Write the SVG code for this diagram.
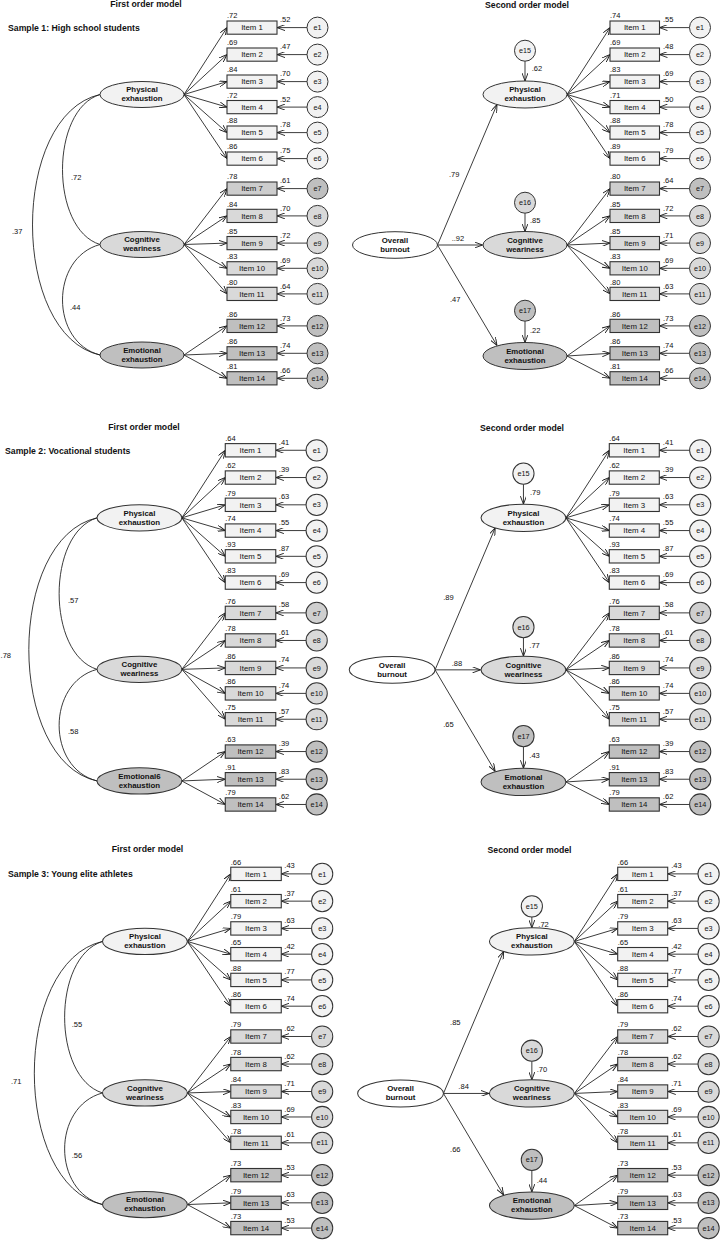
<svg xmlns="http://www.w3.org/2000/svg" width="720" height="1241" viewBox="0 0 720 1241">
<style>
.bx1{fill:#f2f2f2}.bx2{fill:#d9d9d9}.bx3{fill:#bfbfbf}.bxw{fill:#ffffff}
rect{stroke:#333;stroke-width:1.1}
ellipse,circle{stroke:#333;stroke-width:1}
.ln{fill:none;stroke:#1a1a1a;stroke-width:0.85;marker-end:url(#ah)}
.cv{fill:none;stroke:#1a1a1a;stroke-width:0.85}
text{font-family:"Liberation Sans",Arial,sans-serif;fill:#111}
.ti{font-size:8.7px;font-weight:bold}
.tc{font-size:8.7px;font-weight:bold;text-anchor:middle}
.lt{font-size:7.8px;font-weight:bold;text-anchor:middle}
.it{font-size:7.8px;text-anchor:middle}
.n{font-size:7.5px}
.e{font-size:7.2px;text-anchor:middle}
</style>
<defs>
<marker id="ah" viewBox="0 0 8 6" refX="8" refY="3" markerWidth="8" markerHeight="6" markerUnits="userSpaceOnUse" orient="auto"><path d="M0,0L8,3L0,6" fill="none" stroke="#1a1a1a" stroke-width="0.9"/></marker>
</defs>
<rect width="720" height="1241" style="fill:#ffffff;stroke:none"/>

<g id="titles">
<text class="tc" x="146" y="7">First order model</text>
<text class="tc" x="527" y="7.5">Second order model</text>
<text class="ti" x="8" y="31">Sample 1: High school students</text>
<text class="tc" x="144" y="429.7">First order model</text>
<text class="tc" x="522" y="431">Second order model</text>
<text class="ti" x="5" y="454">Sample 2: Vocational students</text>
<text class="tc" x="147.5" y="852.3">First order model</text>
<text class="tc" x="529.5" y="853.3">Second order model</text>
<text class="ti" x="8" y="877.3">Sample 3: Young elite athletes</text>
</g>

<!-- ================= SAMPLE 1 FIRST ORDER ================= -->
<g id="s1f">
<g id="s1f-connectors">
<path class="ln" d="M184,94.5L227,27.6"/><path class="ln" d="M184,94.5L227,54.6"/><path class="ln" d="M184,94.5L227,81.6"/><path class="ln" d="M184,94.5L227,107.1"/><path class="ln" d="M184,94.5L227,132.6"/><path class="ln" d="M184,94.5L227,158.6"/>
<path class="ln" d="M184,244.5L227,188.6"/><path class="ln" d="M184,244.5L227,215.9"/><path class="ln" d="M184,244.5L227,243.1"/><path class="ln" d="M184,244.5L227,268.3"/><path class="ln" d="M184,244.5L227,293.9"/>
<path class="ln" d="M184,355L227,325.9"/><path class="ln" d="M184,355L227,353.3"/><path class="ln" d="M184,355L227,378.3"/>
<path class="ln" d="M307,27.6L277,27.6"/><path class="ln" d="M307,54.6L277,54.6"/><path class="ln" d="M307,81.6L277,81.6"/><path class="ln" d="M307,107.1L277,107.1"/><path class="ln" d="M307,132.6L277,132.6"/><path class="ln" d="M307,158.6L277,158.6"/><path class="ln" d="M307,188.6L277,188.6"/><path class="ln" d="M307,215.9L277,215.9"/><path class="ln" d="M307,243.1L277,243.1"/><path class="ln" d="M307,268.3L277,268.3"/><path class="ln" d="M307,293.9L277,293.9"/><path class="ln" d="M307,325.9L277,325.9"/><path class="ln" d="M307,353.3L277,353.3"/><path class="ln" d="M307,378.3L277,378.3"/>
<path class="cv" d="M100,94.5C50,110 50,229 100,244.5"/>
<path class="cv" d="M100,94.5C10,115 10,335 100,355"/>
<path class="cv" d="M100,244.5C50,258 50,342 100,355"/>
<text class="n" x="71" y="179.5">.72</text><text class="n" x="12" y="233.5">.37</text><text class="n" x="70" y="309.5">.44</text>
<text class="n" x="227" y="18.4">.72</text><text class="n" x="227" y="45.4">.69</text><text class="n" x="227" y="72.4">.84</text><text class="n" x="227" y="97.9">.72</text><text class="n" x="227" y="123.4">.88</text><text class="n" x="227" y="149.4">.86</text><text class="n" x="227" y="179.4">.78</text><text class="n" x="227" y="206.7">.84</text><text class="n" x="227" y="233.9">.85</text><text class="n" x="227" y="259.1">.83</text><text class="n" x="227" y="284.7">.80</text><text class="n" x="227" y="316.7">.86</text><text class="n" x="227" y="344.1">.86</text><text class="n" x="227" y="369.1">.81</text>
<text class="n" x="280" y="22.2">.52</text><text class="n" x="280" y="49.2">.47</text><text class="n" x="280" y="76.2">.70</text><text class="n" x="280" y="101.7">.52</text><text class="n" x="280" y="127.2">.78</text><text class="n" x="280" y="153.2">.75</text><text class="n" x="280" y="183.2">.61</text><text class="n" x="280" y="210.5">.70</text><text class="n" x="280" y="237.7">.72</text><text class="n" x="280" y="262.9">.69</text><text class="n" x="280" y="288.5">.64</text><text class="n" x="280" y="320.5">.73</text><text class="n" x="280" y="347.9">.74</text><text class="n" x="280" y="372.9">.66</text>
</g>
<g id="s1f-PE"><ellipse class="bx1" cx="142" cy="94.5" rx="42" ry="13"/><text class="lt" x="142" y="92.3">Physical</text><text class="lt" x="142" y="101.3">exhaustion</text></g>
<g id="s1f-CW"><ellipse class="bx2" cx="142" cy="244.5" rx="42" ry="13"/><text class="lt" x="142" y="242.3">Cognitive</text><text class="lt" x="142" y="251.3">weariness</text></g>
<g id="s1f-EE"><ellipse class="bx3" cx="142" cy="355" rx="42" ry="13"/><text class="lt" x="142" y="352.8">Emotional</text><text class="lt" x="142" y="361.8">exhaustion</text></g>
<g id="s1f-i1" transform="translate(227,21)"><rect class="bx1" width="50" height="13.2"/><text class="it" x="25" y="9.4">Item 1</text></g>
<g id="s1f-i2" transform="translate(227,48)"><rect class="bx1" width="50" height="13.2"/><text class="it" x="25" y="9.4">Item 2</text></g>
<g id="s1f-i3" transform="translate(227,75)"><rect class="bx1" width="50" height="13.2"/><text class="it" x="25" y="9.4">Item 3</text></g>
<g id="s1f-i4" transform="translate(227,100.5)"><rect class="bx1" width="50" height="13.2"/><text class="it" x="25" y="9.4">Item 4</text></g>
<g id="s1f-i5" transform="translate(227,126)"><rect class="bx1" width="50" height="13.2"/><text class="it" x="25" y="9.4">Item 5</text></g>
<g id="s1f-i6" transform="translate(227,152)"><rect class="bx1" width="50" height="13.2"/><text class="it" x="25" y="9.4">Item 6</text></g>
<g id="s1f-i7" transform="translate(227,182)"><rect class="bx2" style="fill:#cdcdcd" width="50" height="13.2"/><text class="it" x="25" y="9.4">Item 7</text></g>
<g id="s1f-i8" transform="translate(227,209.3)"><rect class="bx2" width="50" height="13.2"/><text class="it" x="25" y="9.4">Item 8</text></g>
<g id="s1f-i9" transform="translate(227,236.5)"><rect class="bx2" width="50" height="13.2"/><text class="it" x="25" y="9.4">Item 9</text></g>
<g id="s1f-i10" transform="translate(227,261.7)"><rect class="bx2" width="50" height="13.2"/><text class="it" x="25" y="9.4">Item 10</text></g>
<g id="s1f-i11" transform="translate(227,287.3)"><rect class="bx2" width="50" height="13.2"/><text class="it" x="25" y="9.4">Item 11</text></g>
<g id="s1f-i12" transform="translate(227,319.3)"><rect class="bx3" width="50" height="13.2"/><text class="it" x="25" y="9.4">Item 12</text></g>
<g id="s1f-i13" transform="translate(227,346.7)"><rect class="bx3" width="50" height="13.2"/><text class="it" x="25" y="9.4">Item 13</text></g>
<g id="s1f-i14" transform="translate(227,371.7)"><rect class="bx3" width="50" height="13.2"/><text class="it" x="25" y="9.4">Item 14</text></g>
<g id="s1f-e1" transform="translate(317.5,27.6)"><circle class="bx1" r="10.5"/><text class="e" y="2.6">e1</text></g>
<g id="s1f-e2" transform="translate(317.5,54.6)"><circle class="bx1" r="10.5"/><text class="e" y="2.6">e2</text></g>
<g id="s1f-e3" transform="translate(317.5,81.6)"><circle class="bx1" r="10.5"/><text class="e" y="2.6">e3</text></g>
<g id="s1f-e4" transform="translate(317.5,107.1)"><circle class="bx1" r="10.5"/><text class="e" y="2.6">e4</text></g>
<g id="s1f-e5" transform="translate(317.5,132.6)"><circle class="bx1" r="10.5"/><text class="e" y="2.6">e5</text></g>
<g id="s1f-e6" transform="translate(317.5,158.6)"><circle class="bx1" r="10.5"/><text class="e" y="2.6">e6</text></g>
<g id="s1f-e7" transform="translate(317.5,188.6)"><circle class="bx3" r="10.5"/><text class="e" y="2.6">e7</text></g>
<g id="s1f-e8" transform="translate(317.5,215.9)"><circle class="bx2" r="10.5"/><text class="e" y="2.6">e8</text></g>
<g id="s1f-e9" transform="translate(317.5,243.1)"><circle class="bx2" r="10.5"/><text class="e" y="2.6">e9</text></g>
<g id="s1f-e10" transform="translate(317.5,268.3)"><circle class="bx2" r="10.5"/><text class="e" y="2.6">e10</text></g>
<g id="s1f-e11" transform="translate(317.5,293.9)"><circle class="bx2" r="10.5"/><text class="e" y="2.6">e11</text></g>
<g id="s1f-e12" transform="translate(317.5,325.9)"><circle class="bx3" r="10.5"/><text class="e" y="2.6">e12</text></g>
<g id="s1f-e13" transform="translate(317.5,353.3)"><circle class="bx3" r="10.5"/><text class="e" y="2.6">e13</text></g>
<g id="s1f-e14" transform="translate(317.5,378.3)"><circle class="bx3" r="10.5"/><text class="e" y="2.6">e14</text></g>
</g>

<!-- ================= SAMPLE 1 SECOND ORDER ================= -->
<g id="s1s">
<g id="s1s-connectors">
<path class="ln" d="M567,94.5L610,27.6"/><path class="ln" d="M567,94.5L610,54.6"/><path class="ln" d="M567,94.5L610,81.6"/><path class="ln" d="M567,94.5L610,107.1"/><path class="ln" d="M567,94.5L610,132.6"/><path class="ln" d="M567,94.5L610,158.6"/>
<path class="ln" d="M567,245L610,188.6"/><path class="ln" d="M567,245L610,215.9"/><path class="ln" d="M567,245L610,243.1"/><path class="ln" d="M567,245L610,268.3"/><path class="ln" d="M567,245L610,293.9"/>
<path class="ln" d="M567,356L610,325.9"/><path class="ln" d="M567,356L610,353.3"/><path class="ln" d="M567,356L610,378.3"/>
<path class="ln" d="M689.5,27.6L659.5,27.6"/><path class="ln" d="M689.5,54.6L659.5,54.6"/><path class="ln" d="M689.5,81.6L659.5,81.6"/><path class="ln" d="M689.5,107.1L659.5,107.1"/><path class="ln" d="M689.5,132.6L659.5,132.6"/><path class="ln" d="M689.5,158.6L659.5,158.6"/><path class="ln" d="M689.5,188.6L659.5,188.6"/><path class="ln" d="M689.5,215.9L659.5,215.9"/><path class="ln" d="M689.5,243.1L659.5,243.1"/><path class="ln" d="M689.5,268.3L659.5,268.3"/><path class="ln" d="M689.5,293.9L659.5,293.9"/><path class="ln" d="M689.5,325.9L659.5,325.9"/><path class="ln" d="M689.5,353.3L659.5,353.3"/><path class="ln" d="M689.5,378.3L659.5,378.3"/>
<path class="ln" d="M437.5,245L497,104.5"/><path class="ln" d="M437.5,245L482.5,245"/><path class="ln" d="M437.5,245L497,345.5"/>
<path class="ln" d="M525,61.2L525,81"/><path class="ln" d="M525,213.2L525,231.5"/><path class="ln" d="M525,321.2L525,342.5"/>
<text class="n" x="449" y="176.5">.79</text><text class="n" x="451.7" y="240.5">..92</text><text class="n" x="450" y="301.5">.47</text>
<text class="n" x="531.7" y="70.5">.62</text><text class="n" x="530" y="222.5">.85</text><text class="n" x="530" y="332.5">.22</text>
<text class="n" x="610" y="18.4">.74</text><text class="n" x="610" y="45.4">.69</text><text class="n" x="610" y="72.4">.83</text><text class="n" x="610" y="97.9">.71</text><text class="n" x="610" y="123.4">.88</text><text class="n" x="610" y="149.4">.89</text><text class="n" x="610" y="179.4">.80</text><text class="n" x="610" y="206.7">.85</text><text class="n" x="610" y="233.9">.85</text><text class="n" x="610" y="259.1">.83</text><text class="n" x="610" y="284.7">.80</text><text class="n" x="610" y="316.7">.86</text><text class="n" x="610" y="344.1">.86</text><text class="n" x="610" y="369.1">.81</text>
<text class="n" x="663" y="22.2">.55</text><text class="n" x="663" y="49.2">.48</text><text class="n" x="663" y="76.2">.69</text><text class="n" x="663" y="101.7">.50</text><text class="n" x="663" y="127.2">.78</text><text class="n" x="663" y="153.2">.79</text><text class="n" x="663" y="183.2">.64</text><text class="n" x="663" y="210.5">.72</text><text class="n" x="663" y="237.7">.71</text><text class="n" x="663" y="262.9">.69</text><text class="n" x="663" y="288.5">.63</text><text class="n" x="663" y="320.5">.73</text><text class="n" x="663" y="347.9">.74</text><text class="n" x="663" y="372.9">.66</text>
</g>
<g id="s1s-OB"><ellipse class="bxw" cx="395" cy="245" rx="42.5" ry="13.3"/><text class="lt" x="395" y="242.8">Overall</text><text class="lt" x="395" y="251.8">burnout</text></g>
<g id="s1s-PE"><ellipse class="bx1" cx="525" cy="94.5" rx="42" ry="13.5"/><text class="lt" x="525" y="92.3">Physical</text><text class="lt" x="525" y="101.3">exhaustion</text></g>
<g id="s1s-CW"><ellipse class="bx2" cx="525" cy="245" rx="42" ry="13.5"/><text class="lt" x="525" y="242.8">Cognitive</text><text class="lt" x="525" y="251.8">weariness</text></g>
<g id="s1s-EE"><ellipse class="bx3" cx="525" cy="356" rx="42" ry="13.5"/><text class="lt" x="525" y="353.8">Emotional</text><text class="lt" x="525" y="362.8">exhaustion</text></g>
<g id="s1s-e15" transform="translate(525,50.7)"><circle class="bx1" r="10.5"/><text class="e" y="2.6">e15</text></g>
<g id="s1s-e16" transform="translate(525,202.7)"><circle class="bx2" r="10.5"/><text class="e" y="2.6">e16</text></g>
<g id="s1s-e17" transform="translate(525,310.7)"><circle class="bx3" r="10.5"/><text class="e" y="2.6">e17</text></g>
<g id="s1s-i1" transform="translate(610,21)"><rect class="bx1" width="49.5" height="13.2"/><text class="it" x="24.75" y="9.4">Item 1</text></g>
<g id="s1s-i2" transform="translate(610,48)"><rect class="bx1" width="49.5" height="13.2"/><text class="it" x="24.75" y="9.4">Item 2</text></g>
<g id="s1s-i3" transform="translate(610,75)"><rect class="bx1" width="49.5" height="13.2"/><text class="it" x="24.75" y="9.4">Item 3</text></g>
<g id="s1s-i4" transform="translate(610,100.5)"><rect class="bx1" width="49.5" height="13.2"/><text class="it" x="24.75" y="9.4">Item 4</text></g>
<g id="s1s-i5" transform="translate(610,126)"><rect class="bx1" width="49.5" height="13.2"/><text class="it" x="24.75" y="9.4">Item 5</text></g>
<g id="s1s-i6" transform="translate(610,152)"><rect class="bx1" width="49.5" height="13.2"/><text class="it" x="24.75" y="9.4">Item 6</text></g>
<g id="s1s-i7" transform="translate(610,182)"><rect class="bx2" style="fill:#cdcdcd" width="49.5" height="13.2"/><text class="it" x="24.75" y="9.4">Item 7</text></g>
<g id="s1s-i8" transform="translate(610,209.3)"><rect class="bx2" width="49.5" height="13.2"/><text class="it" x="24.75" y="9.4">Item 8</text></g>
<g id="s1s-i9" transform="translate(610,236.5)"><rect class="bx2" width="49.5" height="13.2"/><text class="it" x="24.75" y="9.4">Item 9</text></g>
<g id="s1s-i10" transform="translate(610,261.7)"><rect class="bx2" width="49.5" height="13.2"/><text class="it" x="24.75" y="9.4">Item 10</text></g>
<g id="s1s-i11" transform="translate(610,287.3)"><rect class="bx2" width="49.5" height="13.2"/><text class="it" x="24.75" y="9.4">Item 11</text></g>
<g id="s1s-i12" transform="translate(610,319.3)"><rect class="bx3" width="49.5" height="13.2"/><text class="it" x="24.75" y="9.4">Item 12</text></g>
<g id="s1s-i13" transform="translate(610,346.7)"><rect class="bx3" width="49.5" height="13.2"/><text class="it" x="24.75" y="9.4">Item 13</text></g>
<g id="s1s-i14" transform="translate(610,371.7)"><rect class="bx3" width="49.5" height="13.2"/><text class="it" x="24.75" y="9.4">Item 14</text></g>
<g id="s1s-e1" transform="translate(700,27.6)"><circle class="bx1" r="10.5"/><text class="e" y="2.6">e1</text></g>
<g id="s1s-e2" transform="translate(700,54.6)"><circle class="bx1" r="10.5"/><text class="e" y="2.6">e2</text></g>
<g id="s1s-e3" transform="translate(700,81.6)"><circle class="bx1" r="10.5"/><text class="e" y="2.6">e3</text></g>
<g id="s1s-e4" transform="translate(700,107.1)"><circle class="bx1" r="10.5"/><text class="e" y="2.6">e4</text></g>
<g id="s1s-e5" transform="translate(700,132.6)"><circle class="bx1" r="10.5"/><text class="e" y="2.6">e5</text></g>
<g id="s1s-e6" transform="translate(700,158.6)"><circle class="bx1" r="10.5"/><text class="e" y="2.6">e6</text></g>
<g id="s1s-e7" transform="translate(700,188.6)"><circle class="bx3" r="10.5"/><text class="e" y="2.6">e7</text></g>
<g id="s1s-e8" transform="translate(700,215.9)"><circle class="bx2" r="10.5"/><text class="e" y="2.6">e8</text></g>
<g id="s1s-e9" transform="translate(700,243.1)"><circle class="bx2" r="10.5"/><text class="e" y="2.6">e9</text></g>
<g id="s1s-e10" transform="translate(700,268.3)"><circle class="bx2" r="10.5"/><text class="e" y="2.6">e10</text></g>
<g id="s1s-e11" transform="translate(700,293.9)"><circle class="bx2" r="10.5"/><text class="e" y="2.6">e11</text></g>
<g id="s1s-e12" transform="translate(700,325.9)"><circle class="bx3" r="10.5"/><text class="e" y="2.6">e12</text></g>
<g id="s1s-e13" transform="translate(700,353.3)"><circle class="bx3" r="10.5"/><text class="e" y="2.6">e13</text></g>
<g id="s1s-e14" transform="translate(700,378.3)"><circle class="bx3" r="10.5"/><text class="e" y="2.6">e14</text></g>
</g>

<!-- ================= SAMPLE 2 FIRST ORDER ================= -->
<g id="s2f" transform="translate(-4,422.4) scale(1.01)">
<g id="s2f-connectors">
<path class="ln" d="M184,94.5L227,27.6"/><path class="ln" d="M184,94.5L227,54.6"/><path class="ln" d="M184,94.5L227,81.6"/><path class="ln" d="M184,94.5L227,107.1"/><path class="ln" d="M184,94.5L227,132.6"/><path class="ln" d="M184,94.5L227,158.6"/>
<path class="ln" d="M184,244.5L227,188.6"/><path class="ln" d="M184,244.5L227,215.9"/><path class="ln" d="M184,244.5L227,243.1"/><path class="ln" d="M184,244.5L227,268.3"/><path class="ln" d="M184,244.5L227,293.9"/>
<path class="ln" d="M184,355L227,325.9"/><path class="ln" d="M184,355L227,353.3"/><path class="ln" d="M184,355L227,378.3"/>
<path class="ln" d="M307,27.6L277,27.6"/><path class="ln" d="M307,54.6L277,54.6"/><path class="ln" d="M307,81.6L277,81.6"/><path class="ln" d="M307,107.1L277,107.1"/><path class="ln" d="M307,132.6L277,132.6"/><path class="ln" d="M307,158.6L277,158.6"/><path class="ln" d="M307,188.6L277,188.6"/><path class="ln" d="M307,215.9L277,215.9"/><path class="ln" d="M307,243.1L277,243.1"/><path class="ln" d="M307,268.3L277,268.3"/><path class="ln" d="M307,293.9L277,293.9"/><path class="ln" d="M307,325.9L277,325.9"/><path class="ln" d="M307,353.3L277,353.3"/><path class="ln" d="M307,378.3L277,378.3"/>
<path class="cv" d="M100,94.5C50,110 50,229 100,244.5"/>
<path class="cv" d="M100,94.5C10,115 10,335 100,355"/>
<path class="cv" d="M100,244.5C50,258 50,342 100,355"/>
<text class="n" x="71.3" y="179.3">.57</text><text class="n" x="4.5" y="233.5">.78</text><text class="n" x="71.3" y="308.7">.58</text>
<text class="n" x="227" y="18.4">.64</text><text class="n" x="227" y="45.4">.62</text><text class="n" x="227" y="72.4">.79</text><text class="n" x="227" y="97.9">.74</text><text class="n" x="227" y="123.4">.93</text><text class="n" x="227" y="149.4">.83</text><text class="n" x="227" y="179.4">.76</text><text class="n" x="227" y="206.7">.78</text><text class="n" x="227" y="233.9">.86</text><text class="n" x="227" y="259.1">.86</text><text class="n" x="227" y="284.7">.75</text><text class="n" x="227" y="316.7">.63</text><text class="n" x="227" y="344.1">.91</text><text class="n" x="227" y="369.1">.79</text>
<text class="n" x="280" y="22.2">.41</text><text class="n" x="280" y="49.2">.39</text><text class="n" x="280" y="76.2">.63</text><text class="n" x="280" y="101.7">.55</text><text class="n" x="280" y="127.2">.87</text><text class="n" x="280" y="153.2">.69</text><text class="n" x="280" y="183.2">.58</text><text class="n" x="280" y="210.5">.61</text><text class="n" x="280" y="237.7">.74</text><text class="n" x="280" y="262.9">.74</text><text class="n" x="280" y="288.5">.57</text><text class="n" x="280" y="320.5">.39</text><text class="n" x="280" y="347.9">.83</text><text class="n" x="280" y="372.9">.62</text>
</g>
<g id="s2f-PE"><ellipse class="bx1" cx="142" cy="94.5" rx="42" ry="13"/><text class="lt" x="142" y="92.3">Physical</text><text class="lt" x="142" y="101.3">exhaustion</text></g>
<g id="s2f-CW"><ellipse class="bx2" cx="142" cy="244.5" rx="42" ry="13"/><text class="lt" x="142" y="242.3">Cognitive</text><text class="lt" x="142" y="251.3">weariness</text></g>
<g id="s2f-EE"><ellipse class="bx3" cx="142" cy="355" rx="42" ry="13"/><text class="lt" x="142" y="352.8">Emotional6</text><text class="lt" x="142" y="361.8">exhaustion</text></g>
<g id="s2f-i1" transform="translate(227,21)"><rect class="bx1" width="50" height="13.2"/><text class="it" x="25" y="9.4">Item 1</text></g>
<g id="s2f-i2" transform="translate(227,48)"><rect class="bx1" width="50" height="13.2"/><text class="it" x="25" y="9.4">Item 2</text></g>
<g id="s2f-i3" transform="translate(227,75)"><rect class="bx1" width="50" height="13.2"/><text class="it" x="25" y="9.4">Item 3</text></g>
<g id="s2f-i4" transform="translate(227,100.5)"><rect class="bx1" width="50" height="13.2"/><text class="it" x="25" y="9.4">Item 4</text></g>
<g id="s2f-i5" transform="translate(227,126)"><rect class="bx1" width="50" height="13.2"/><text class="it" x="25" y="9.4">Item 5</text></g>
<g id="s2f-i6" transform="translate(227,152)"><rect class="bx1" width="50" height="13.2"/><text class="it" x="25" y="9.4">Item 6</text></g>
<g id="s2f-i7" transform="translate(227,182)"><rect class="bx2" width="50" height="13.2"/><text class="it" x="25" y="9.4">Item 7</text></g>
<g id="s2f-i8" transform="translate(227,209.3)"><rect class="bx2" width="50" height="13.2"/><text class="it" x="25" y="9.4">Item 8</text></g>
<g id="s2f-i9" transform="translate(227,236.5)"><rect class="bx2" width="50" height="13.2"/><text class="it" x="25" y="9.4">Item 9</text></g>
<g id="s2f-i10" transform="translate(227,261.7)"><rect class="bx2" width="50" height="13.2"/><text class="it" x="25" y="9.4">Item 10</text></g>
<g id="s2f-i11" transform="translate(227,287.3)"><rect class="bx2" width="50" height="13.2"/><text class="it" x="25" y="9.4">Item 11</text></g>
<g id="s2f-i12" transform="translate(227,319.3)"><rect class="bx3" width="50" height="13.2"/><text class="it" x="25" y="9.4">Item 12</text></g>
<g id="s2f-i13" transform="translate(227,346.7)"><rect class="bx3" width="50" height="13.2"/><text class="it" x="25" y="9.4">Item 13</text></g>
<g id="s2f-i14" transform="translate(227,371.7)"><rect class="bx3" width="50" height="13.2"/><text class="it" x="25" y="9.4">Item 14</text></g>
<g id="s2f-e1" transform="translate(317.5,27.6)"><circle class="bx1" r="10.5"/><text class="e" y="2.6">e1</text></g>
<g id="s2f-e2" transform="translate(317.5,54.6)"><circle class="bx1" r="10.5"/><text class="e" y="2.6">e2</text></g>
<g id="s2f-e3" transform="translate(317.5,81.6)"><circle class="bx1" r="10.5"/><text class="e" y="2.6">e3</text></g>
<g id="s2f-e4" transform="translate(317.5,107.1)"><circle class="bx1" r="10.5"/><text class="e" y="2.6">e4</text></g>
<g id="s2f-e5" transform="translate(317.5,132.6)"><circle class="bx1" r="10.5"/><text class="e" y="2.6">e5</text></g>
<g id="s2f-e6" transform="translate(317.5,158.6)"><circle class="bx1" r="10.5"/><text class="e" y="2.6">e6</text></g>
<g id="s2f-e7" transform="translate(317.5,188.6)"><circle class="bx2" style="fill:#cfcfcf" r="10.5"/><text class="e" y="2.6">e7</text></g>
<g id="s2f-e8" transform="translate(317.5,215.9)"><circle class="bx2" r="10.5"/><text class="e" y="2.6">e8</text></g>
<g id="s2f-e9" transform="translate(317.5,243.1)"><circle class="bx2" r="10.5"/><text class="e" y="2.6">e9</text></g>
<g id="s2f-e10" transform="translate(317.5,268.3)"><circle class="bx2" r="10.5"/><text class="e" y="2.6">e10</text></g>
<g id="s2f-e11" transform="translate(317.5,293.9)"><circle class="bx2" r="10.5"/><text class="e" y="2.6">e11</text></g>
<g id="s2f-e12" transform="translate(317.5,325.9)"><circle class="bx3" r="10.5"/><text class="e" y="2.6">e12</text></g>
<g id="s2f-e13" transform="translate(317.5,353.3)"><circle class="bx3" r="10.5"/><text class="e" y="2.6">e13</text></g>
<g id="s2f-e14" transform="translate(317.5,378.3)"><circle class="bx3" r="10.5"/><text class="e" y="2.6">e14</text></g>
</g>

<!-- ================= SAMPLE 2 SECOND ORDER ================= -->
<g id="s2s" transform="translate(-6.8,422.4) scale(1.01)">
<g id="s2s-connectors">
<path class="ln" d="M567,94.5L610,27.6"/><path class="ln" d="M567,94.5L610,54.6"/><path class="ln" d="M567,94.5L610,81.6"/><path class="ln" d="M567,94.5L610,107.1"/><path class="ln" d="M567,94.5L610,132.6"/><path class="ln" d="M567,94.5L610,158.6"/>
<path class="ln" d="M567,245L610,188.6"/><path class="ln" d="M567,245L610,215.9"/><path class="ln" d="M567,245L610,243.1"/><path class="ln" d="M567,245L610,268.3"/><path class="ln" d="M567,245L610,293.9"/>
<path class="ln" d="M567,356L610,325.9"/><path class="ln" d="M567,356L610,353.3"/><path class="ln" d="M567,356L610,378.3"/>
<path class="ln" d="M689.5,27.6L659.5,27.6"/><path class="ln" d="M689.5,54.6L659.5,54.6"/><path class="ln" d="M689.5,81.6L659.5,81.6"/><path class="ln" d="M689.5,107.1L659.5,107.1"/><path class="ln" d="M689.5,132.6L659.5,132.6"/><path class="ln" d="M689.5,158.6L659.5,158.6"/><path class="ln" d="M689.5,188.6L659.5,188.6"/><path class="ln" d="M689.5,215.9L659.5,215.9"/><path class="ln" d="M689.5,243.1L659.5,243.1"/><path class="ln" d="M689.5,268.3L659.5,268.3"/><path class="ln" d="M689.5,293.9L659.5,293.9"/><path class="ln" d="M689.5,325.9L659.5,325.9"/><path class="ln" d="M689.5,353.3L659.5,353.3"/><path class="ln" d="M689.5,378.3L659.5,378.3"/>
<path class="ln" d="M437.5,245L497,104.5"/><path class="ln" d="M437.5,245L482.5,245"/><path class="ln" d="M437.5,245L497,345.5"/>
<path class="ln" d="M525,61.2L525,81"/><path class="ln" d="M525,213.2L525,231.5"/><path class="ln" d="M525,321.2L525,342.5"/>
<text class="n" x="445.6" y="176.1">.89</text><text class="n" x="454" y="241">.88</text><text class="n" x="445.6" y="301.4">.65</text>
<text class="n" x="531.5" y="71.7">.79</text><text class="n" x="530.8" y="223">.77</text><text class="n" x="530.8" y="332.5">.43</text>
<text class="n" x="610" y="18.4">.64</text><text class="n" x="610" y="45.4">.62</text><text class="n" x="610" y="72.4">.79</text><text class="n" x="610" y="97.9">.74</text><text class="n" x="610" y="123.4">.93</text><text class="n" x="610" y="149.4">.83</text><text class="n" x="610" y="179.4">.76</text><text class="n" x="610" y="206.7">.78</text><text class="n" x="610" y="233.9">.86</text><text class="n" x="610" y="259.1">.86</text><text class="n" x="610" y="284.7">.75</text><text class="n" x="610" y="316.7">.63</text><text class="n" x="610" y="344.1">.91</text><text class="n" x="610" y="369.1">.79</text>
<text class="n" x="663" y="22.2">.41</text><text class="n" x="663" y="49.2">.39</text><text class="n" x="663" y="76.2">.63</text><text class="n" x="663" y="101.7">.55</text><text class="n" x="663" y="127.2">.87</text><text class="n" x="663" y="153.2">.69</text><text class="n" x="663" y="183.2">.58</text><text class="n" x="663" y="210.5">.61</text><text class="n" x="663" y="237.7">.74</text><text class="n" x="663" y="262.9">.74</text><text class="n" x="663" y="288.5">.57</text><text class="n" x="663" y="320.5">.39</text><text class="n" x="663" y="347.9">.83</text><text class="n" x="663" y="372.9">.62</text>
</g>
<g id="s2s-OB"><ellipse class="bxw" cx="395" cy="245" rx="42.5" ry="13.3"/><text class="lt" x="395" y="242.8">Overall</text><text class="lt" x="395" y="251.8">burnout</text></g>
<g id="s2s-PE"><ellipse class="bx1" cx="525" cy="94.5" rx="42" ry="13.5"/><text class="lt" x="525" y="92.3">Physical</text><text class="lt" x="525" y="101.3">exhaustion</text></g>
<g id="s2s-CW"><ellipse class="bx2" cx="525" cy="245" rx="42" ry="13.5"/><text class="lt" x="525" y="242.8">Cognitive</text><text class="lt" x="525" y="251.8">weariness</text></g>
<g id="s2s-EE"><ellipse class="bx3" cx="525" cy="356" rx="42" ry="13.5"/><text class="lt" x="525" y="353.8">Emotional</text><text class="lt" x="525" y="362.8">exhaustion</text></g>
<g id="s2s-e15" transform="translate(525,50.7)"><circle class="bx1" r="10.5"/><text class="e" y="2.6">e15</text></g>
<g id="s2s-e16" transform="translate(525,202.7)"><circle class="bx2" r="10.5"/><text class="e" y="2.6">e16</text></g>
<g id="s2s-e17" transform="translate(525,310.7)"><circle class="bx3" r="10.5"/><text class="e" y="2.6">e17</text></g>
<g id="s2s-i1" transform="translate(610,21)"><rect class="bx1" width="49.5" height="13.2"/><text class="it" x="24.75" y="9.4">Item 1</text></g>
<g id="s2s-i2" transform="translate(610,48)"><rect class="bx1" width="49.5" height="13.2"/><text class="it" x="24.75" y="9.4">Item 2</text></g>
<g id="s2s-i3" transform="translate(610,75)"><rect class="bx1" width="49.5" height="13.2"/><text class="it" x="24.75" y="9.4">Item 3</text></g>
<g id="s2s-i4" transform="translate(610,100.5)"><rect class="bx1" width="49.5" height="13.2"/><text class="it" x="24.75" y="9.4">Item 4</text></g>
<g id="s2s-i5" transform="translate(610,126)"><rect class="bx1" width="49.5" height="13.2"/><text class="it" x="24.75" y="9.4">Item 5</text></g>
<g id="s2s-i6" transform="translate(610,152)"><rect class="bx1" width="49.5" height="13.2"/><text class="it" x="24.75" y="9.4">Item 6</text></g>
<g id="s2s-i7" transform="translate(610,182)"><rect class="bx2" width="49.5" height="13.2"/><text class="it" x="24.75" y="9.4">Item 7</text></g>
<g id="s2s-i8" transform="translate(610,209.3)"><rect class="bx2" width="49.5" height="13.2"/><text class="it" x="24.75" y="9.4">Item 8</text></g>
<g id="s2s-i9" transform="translate(610,236.5)"><rect class="bx2" width="49.5" height="13.2"/><text class="it" x="24.75" y="9.4">Item 9</text></g>
<g id="s2s-i10" transform="translate(610,261.7)"><rect class="bx2" width="49.5" height="13.2"/><text class="it" x="24.75" y="9.4">Item 10</text></g>
<g id="s2s-i11" transform="translate(610,287.3)"><rect class="bx2" width="49.5" height="13.2"/><text class="it" x="24.75" y="9.4">Item 11</text></g>
<g id="s2s-i12" transform="translate(610,319.3)"><rect class="bx3" width="49.5" height="13.2"/><text class="it" x="24.75" y="9.4">Item 12</text></g>
<g id="s2s-i13" transform="translate(610,346.7)"><rect class="bx3" width="49.5" height="13.2"/><text class="it" x="24.75" y="9.4">Item 13</text></g>
<g id="s2s-i14" transform="translate(610,371.7)"><rect class="bx3" width="49.5" height="13.2"/><text class="it" x="24.75" y="9.4">Item 14</text></g>
<g id="s2s-e1" transform="translate(700,27.6)"><circle class="bx1" r="10.5"/><text class="e" y="2.6">e1</text></g>
<g id="s2s-e2" transform="translate(700,54.6)"><circle class="bx1" r="10.5"/><text class="e" y="2.6">e2</text></g>
<g id="s2s-e3" transform="translate(700,81.6)"><circle class="bx1" r="10.5"/><text class="e" y="2.6">e3</text></g>
<g id="s2s-e4" transform="translate(700,107.1)"><circle class="bx1" r="10.5"/><text class="e" y="2.6">e4</text></g>
<g id="s2s-e5" transform="translate(700,132.6)"><circle class="bx1" r="10.5"/><text class="e" y="2.6">e5</text></g>
<g id="s2s-e6" transform="translate(700,158.6)"><circle class="bx1" r="10.5"/><text class="e" y="2.6">e6</text></g>
<g id="s2s-e7" transform="translate(700,188.6)"><circle class="bx2" style="fill:#cfcfcf" r="10.5"/><text class="e" y="2.6">e7</text></g>
<g id="s2s-e8" transform="translate(700,215.9)"><circle class="bx2" r="10.5"/><text class="e" y="2.6">e8</text></g>
<g id="s2s-e9" transform="translate(700,243.1)"><circle class="bx2" r="10.5"/><text class="e" y="2.6">e9</text></g>
<g id="s2s-e10" transform="translate(700,268.3)"><circle class="bx2" r="10.5"/><text class="e" y="2.6">e10</text></g>
<g id="s2s-e11" transform="translate(700,293.9)"><circle class="bx2" r="10.5"/><text class="e" y="2.6">e11</text></g>
<g id="s2s-e12" transform="translate(700,325.9)"><circle class="bx3" r="10.5"/><text class="e" y="2.6">e12</text></g>
<g id="s2s-e13" transform="translate(700,353.3)"><circle class="bx3" r="10.5"/><text class="e" y="2.6">e13</text></g>
<g id="s2s-e14" transform="translate(700,378.3)"><circle class="bx3" r="10.5"/><text class="e" y="2.6">e14</text></g>
</g>

<!-- ================= SAMPLE 3 FIRST ORDER ================= -->
<g id="s3f" transform="translate(1.5,846) scale(1.01)">
<g id="s3f-connectors">
<path class="ln" d="M184,94.5L227,27.6"/><path class="ln" d="M184,94.5L227,54.6"/><path class="ln" d="M184,94.5L227,81.6"/><path class="ln" d="M184,94.5L227,107.1"/><path class="ln" d="M184,94.5L227,132.6"/><path class="ln" d="M184,94.5L227,158.6"/>
<path class="ln" d="M184,244.5L227,188.6"/><path class="ln" d="M184,244.5L227,215.9"/><path class="ln" d="M184,244.5L227,243.1"/><path class="ln" d="M184,244.5L227,268.3"/><path class="ln" d="M184,244.5L227,293.9"/>
<path class="ln" d="M184,355L227,325.9"/><path class="ln" d="M184,355L227,353.3"/><path class="ln" d="M184,355L227,378.3"/>
<path class="ln" d="M307,27.6L277,27.6"/><path class="ln" d="M307,54.6L277,54.6"/><path class="ln" d="M307,81.6L277,81.6"/><path class="ln" d="M307,107.1L277,107.1"/><path class="ln" d="M307,132.6L277,132.6"/><path class="ln" d="M307,158.6L277,158.6"/><path class="ln" d="M307,188.6L277,188.6"/><path class="ln" d="M307,215.9L277,215.9"/><path class="ln" d="M307,243.1L277,243.1"/><path class="ln" d="M307,268.3L277,268.3"/><path class="ln" d="M307,293.9L277,293.9"/><path class="ln" d="M307,325.9L277,325.9"/><path class="ln" d="M307,353.3L277,353.3"/><path class="ln" d="M307,378.3L277,378.3"/>
<path class="cv" d="M100,94.5C50,110 50,229 100,244.5"/>
<path class="cv" d="M100,94.5C10,115 10,335 100,355"/>
<path class="cv" d="M100,244.5C50,258 50,342 100,355"/>
<text class="n" x="69.5" y="179.7">.55</text><text class="n" x="9.4" y="235.2">.71</text><text class="n" x="69.5" y="309.4">.56</text>
<text class="n" x="227" y="18.4">.66</text><text class="n" x="227" y="45.4">.61</text><text class="n" x="227" y="72.4">.79</text><text class="n" x="227" y="97.9">.65</text><text class="n" x="227" y="123.4">.88</text><text class="n" x="227" y="149.4">.86</text><text class="n" x="227" y="179.4">.79</text><text class="n" x="227" y="206.7">.78</text><text class="n" x="227" y="233.9">.84</text><text class="n" x="227" y="259.1">.83</text><text class="n" x="227" y="284.7">.78</text><text class="n" x="227" y="316.7">.73</text><text class="n" x="227" y="344.1">.79</text><text class="n" x="227" y="369.1">.73</text>
<text class="n" x="280" y="22.2">.43</text><text class="n" x="280" y="49.2">.37</text><text class="n" x="280" y="76.2">.63</text><text class="n" x="280" y="101.7">.42</text><text class="n" x="280" y="127.2">.77</text><text class="n" x="280" y="153.2">.74</text><text class="n" x="280" y="183.2">.62</text><text class="n" x="280" y="210.5">.62</text><text class="n" x="280" y="237.7">.71</text><text class="n" x="280" y="262.9">.69</text><text class="n" x="280" y="288.5">.61</text><text class="n" x="280" y="320.5">.53</text><text class="n" x="280" y="347.9">.63</text><text class="n" x="280" y="372.9">.53</text>
</g>
<g id="s3f-PE"><ellipse class="bx1" cx="142" cy="94.5" rx="42" ry="13"/><text class="lt" x="142" y="92.3">Physical</text><text class="lt" x="142" y="101.3">exhaustion</text></g>
<g id="s3f-CW"><ellipse class="bx2" cx="142" cy="244.5" rx="42" ry="13"/><text class="lt" x="142" y="242.3">Cognitive</text><text class="lt" x="142" y="251.3">weariness</text></g>
<g id="s3f-EE"><ellipse class="bx3" cx="142" cy="355" rx="42" ry="13"/><text class="lt" x="142" y="352.8">Emotional</text><text class="lt" x="142" y="361.8">exhaustion</text></g>
<g id="s3f-i1" transform="translate(227,21)"><rect class="bx1" width="50" height="13.2"/><text class="it" x="25" y="9.4">Item 1</text></g>
<g id="s3f-i2" transform="translate(227,48)"><rect class="bx1" width="50" height="13.2"/><text class="it" x="25" y="9.4">Item 2</text></g>
<g id="s3f-i3" transform="translate(227,75)"><rect class="bx1" width="50" height="13.2"/><text class="it" x="25" y="9.4">Item 3</text></g>
<g id="s3f-i4" transform="translate(227,100.5)"><rect class="bx1" width="50" height="13.2"/><text class="it" x="25" y="9.4">Item 4</text></g>
<g id="s3f-i5" transform="translate(227,126)"><rect class="bx1" width="50" height="13.2"/><text class="it" x="25" y="9.4">Item 5</text></g>
<g id="s3f-i6" transform="translate(227,152)"><rect class="bx1" width="50" height="13.2"/><text class="it" x="25" y="9.4">Item 6</text></g>
<g id="s3f-i7" transform="translate(227,182)"><rect class="bx2" width="50" height="13.2"/><text class="it" x="25" y="9.4">Item 7</text></g>
<g id="s3f-i8" transform="translate(227,209.3)"><rect class="bx2" width="50" height="13.2"/><text class="it" x="25" y="9.4">Item 8</text></g>
<g id="s3f-i9" transform="translate(227,236.5)"><rect class="bx2" width="50" height="13.2"/><text class="it" x="25" y="9.4">Item 9</text></g>
<g id="s3f-i10" transform="translate(227,261.7)"><rect class="bx2" width="50" height="13.2"/><text class="it" x="25" y="9.4">Item 10</text></g>
<g id="s3f-i11" transform="translate(227,287.3)"><rect class="bx2" width="50" height="13.2"/><text class="it" x="25" y="9.4">Item 11</text></g>
<g id="s3f-i12" transform="translate(227,319.3)"><rect class="bx3" width="50" height="13.2"/><text class="it" x="25" y="9.4">Item 12</text></g>
<g id="s3f-i13" transform="translate(227,346.7)"><rect class="bx3" width="50" height="13.2"/><text class="it" x="25" y="9.4">Item 13</text></g>
<g id="s3f-i14" transform="translate(227,371.7)"><rect class="bx3" width="50" height="13.2"/><text class="it" x="25" y="9.4">Item 14</text></g>
<g id="s3f-e1" transform="translate(317.5,27.6)"><circle class="bx1" r="10.5"/><text class="e" y="2.6">e1</text></g>
<g id="s3f-e2" transform="translate(317.5,54.6)"><circle class="bx1" r="10.5"/><text class="e" y="2.6">e2</text></g>
<g id="s3f-e3" transform="translate(317.5,81.6)"><circle class="bx1" r="10.5"/><text class="e" y="2.6">e3</text></g>
<g id="s3f-e4" transform="translate(317.5,107.1)"><circle class="bx1" r="10.5"/><text class="e" y="2.6">e4</text></g>
<g id="s3f-e5" transform="translate(317.5,132.6)"><circle class="bx1" r="10.5"/><text class="e" y="2.6">e5</text></g>
<g id="s3f-e6" transform="translate(317.5,158.6)"><circle class="bx1" r="10.5"/><text class="e" y="2.6">e6</text></g>
<g id="s3f-e7" transform="translate(317.5,188.6)"><circle class="bx2" r="10.5"/><text class="e" y="2.6">e7</text></g>
<g id="s3f-e8" transform="translate(317.5,215.9)"><circle class="bx2" r="10.5"/><text class="e" y="2.6">e8</text></g>
<g id="s3f-e9" transform="translate(317.5,243.1)"><circle class="bx2" r="10.5"/><text class="e" y="2.6">e9</text></g>
<g id="s3f-e10" transform="translate(317.5,268.3)"><circle class="bx2" r="10.5"/><text class="e" y="2.6">e10</text></g>
<g id="s3f-e11" transform="translate(317.5,293.9)"><circle class="bx2" r="10.5"/><text class="e" y="2.6">e11</text></g>
<g id="s3f-e12" transform="translate(317.5,325.9)"><circle class="bx3" r="10.5"/><text class="e" y="2.6">e12</text></g>
<g id="s3f-e13" transform="translate(317.5,353.3)"><circle class="bx3" r="10.5"/><text class="e" y="2.6">e13</text></g>
<g id="s3f-e14" transform="translate(317.5,378.3)"><circle class="bx3" r="10.5"/><text class="e" y="2.6">e14</text></g>
</g>

<!-- ================= SAMPLE 3 SECOND ORDER ================= -->
<g id="s3s" transform="translate(1.6,846) scale(1.01)">
<g id="s3s-connectors">
<path class="ln" d="M567,94.5L610,27.6"/><path class="ln" d="M567,94.5L610,54.6"/><path class="ln" d="M567,94.5L610,81.6"/><path class="ln" d="M567,94.5L610,107.1"/><path class="ln" d="M567,94.5L610,132.6"/><path class="ln" d="M567,94.5L610,158.6"/>
<path class="ln" d="M567,245L610,188.6"/><path class="ln" d="M567,245L610,215.9"/><path class="ln" d="M567,245L610,243.1"/><path class="ln" d="M567,245L610,268.3"/><path class="ln" d="M567,245L610,293.9"/>
<path class="ln" d="M567,356L610,325.9"/><path class="ln" d="M567,356L610,353.3"/><path class="ln" d="M567,356L610,378.3"/>
<path class="ln" d="M689.5,27.6L659.5,27.6"/><path class="ln" d="M689.5,54.6L659.5,54.6"/><path class="ln" d="M689.5,81.6L659.5,81.6"/><path class="ln" d="M689.5,107.1L659.5,107.1"/><path class="ln" d="M689.5,132.6L659.5,132.6"/><path class="ln" d="M689.5,158.6L659.5,158.6"/><path class="ln" d="M689.5,188.6L659.5,188.6"/><path class="ln" d="M689.5,215.9L659.5,215.9"/><path class="ln" d="M689.5,243.1L659.5,243.1"/><path class="ln" d="M689.5,268.3L659.5,268.3"/><path class="ln" d="M689.5,293.9L659.5,293.9"/><path class="ln" d="M689.5,325.9L659.5,325.9"/><path class="ln" d="M689.5,353.3L659.5,353.3"/><path class="ln" d="M689.5,378.3L659.5,378.3"/>
<path class="ln" d="M437.5,245L497,104.5"/><path class="ln" d="M437.5,245L482.5,245"/><path class="ln" d="M437.5,245L497,345.5"/>
<path class="ln" d="M525,70.2L525,81"/><path class="ln" d="M525,213.2L525,231.5"/><path class="ln" d="M525,321.2L525,342.5"/>
<text class="n" x="444" y="177">.85</text><text class="n" x="452.2" y="240.8">.84</text><text class="n" x="444" y="302.5">.66</text>
<text class="n" x="531.4" y="80">.72</text><text class="n" x="529.8" y="223.6">.70</text><text class="n" x="529.8" y="334">.44</text>
<text class="n" x="610" y="18.4">.66</text><text class="n" x="610" y="45.4">.61</text><text class="n" x="610" y="72.4">.79</text><text class="n" x="610" y="97.9">.65</text><text class="n" x="610" y="123.4">.88</text><text class="n" x="610" y="149.4">.86</text><text class="n" x="610" y="179.4">.79</text><text class="n" x="610" y="206.7">.78</text><text class="n" x="610" y="233.9">.84</text><text class="n" x="610" y="259.1">.83</text><text class="n" x="610" y="284.7">.78</text><text class="n" x="610" y="316.7">.73</text><text class="n" x="610" y="344.1">.79</text><text class="n" x="610" y="369.1">.73</text>
<text class="n" x="663" y="22.2">.43</text><text class="n" x="663" y="49.2">.37</text><text class="n" x="663" y="76.2">.63</text><text class="n" x="663" y="101.7">.42</text><text class="n" x="663" y="127.2">.77</text><text class="n" x="663" y="153.2">.74</text><text class="n" x="663" y="183.2">.62</text><text class="n" x="663" y="210.5">.62</text><text class="n" x="663" y="237.7">.71</text><text class="n" x="663" y="262.9">.69</text><text class="n" x="663" y="288.5">.61</text><text class="n" x="663" y="320.5">.53</text><text class="n" x="663" y="347.9">.63</text><text class="n" x="663" y="372.9">.53</text>
</g>
<g id="s3s-OB"><ellipse class="bxw" cx="395" cy="245" rx="42.5" ry="13.3"/><text class="lt" x="395" y="242.8">Overall</text><text class="lt" x="395" y="251.8">burnout</text></g>
<g id="s3s-PE"><ellipse class="bx1" cx="525" cy="94.5" rx="42" ry="13.5"/><text class="lt" x="525" y="92.3">Physical</text><text class="lt" x="525" y="101.3">exhaustion</text></g>
<g id="s3s-CW"><ellipse class="bx2" cx="525" cy="245" rx="42" ry="13.5"/><text class="lt" x="525" y="242.8">Cognitive</text><text class="lt" x="525" y="251.8">weariness</text></g>
<g id="s3s-EE"><ellipse class="bx3" cx="525" cy="356" rx="42" ry="13.5"/><text class="lt" x="525" y="353.8">Emotional</text><text class="lt" x="525" y="362.8">exhaustion</text></g>
<g id="s3s-e15" transform="translate(525,59.7)"><circle class="bx1" r="10.5"/><text class="e" y="2.6">e15</text></g>
<g id="s3s-e16" transform="translate(525,202.7)"><circle class="bx2" r="10.5"/><text class="e" y="2.6">e16</text></g>
<g id="s3s-e17" transform="translate(525,310.7)"><circle class="bx3" r="10.5"/><text class="e" y="2.6">e17</text></g>
<g id="s3s-i1" transform="translate(610,21)"><rect class="bx1" width="49.5" height="13.2"/><text class="it" x="24.75" y="9.4">Item 1</text></g>
<g id="s3s-i2" transform="translate(610,48)"><rect class="bx1" width="49.5" height="13.2"/><text class="it" x="24.75" y="9.4">Item 2</text></g>
<g id="s3s-i3" transform="translate(610,75)"><rect class="bx1" width="49.5" height="13.2"/><text class="it" x="24.75" y="9.4">Item 3</text></g>
<g id="s3s-i4" transform="translate(610,100.5)"><rect class="bx1" width="49.5" height="13.2"/><text class="it" x="24.75" y="9.4">Item 4</text></g>
<g id="s3s-i5" transform="translate(610,126)"><rect class="bx1" width="49.5" height="13.2"/><text class="it" x="24.75" y="9.4">Item 5</text></g>
<g id="s3s-i6" transform="translate(610,152)"><rect class="bx1" width="49.5" height="13.2"/><text class="it" x="24.75" y="9.4">Item 6</text></g>
<g id="s3s-i7" transform="translate(610,182)"><rect class="bx2" width="49.5" height="13.2"/><text class="it" x="24.75" y="9.4">Item 7</text></g>
<g id="s3s-i8" transform="translate(610,209.3)"><rect class="bx2" width="49.5" height="13.2"/><text class="it" x="24.75" y="9.4">Item 8</text></g>
<g id="s3s-i9" transform="translate(610,236.5)"><rect class="bx2" width="49.5" height="13.2"/><text class="it" x="24.75" y="9.4">Item 9</text></g>
<g id="s3s-i10" transform="translate(610,261.7)"><rect class="bx2" width="49.5" height="13.2"/><text class="it" x="24.75" y="9.4">Item 10</text></g>
<g id="s3s-i11" transform="translate(610,287.3)"><rect class="bx2" width="49.5" height="13.2"/><text class="it" x="24.75" y="9.4">Item 11</text></g>
<g id="s3s-i12" transform="translate(610,319.3)"><rect class="bx3" width="49.5" height="13.2"/><text class="it" x="24.75" y="9.4">Item 12</text></g>
<g id="s3s-i13" transform="translate(610,346.7)"><rect class="bx3" width="49.5" height="13.2"/><text class="it" x="24.75" y="9.4">Item 13</text></g>
<g id="s3s-i14" transform="translate(610,371.7)"><rect class="bx3" width="49.5" height="13.2"/><text class="it" x="24.75" y="9.4">Item 14</text></g>
<g id="s3s-e1" transform="translate(700,27.6)"><circle class="bx1" r="10.5"/><text class="e" y="2.6">e1</text></g>
<g id="s3s-e2" transform="translate(700,54.6)"><circle class="bx1" r="10.5"/><text class="e" y="2.6">e2</text></g>
<g id="s3s-e3" transform="translate(700,81.6)"><circle class="bx1" r="10.5"/><text class="e" y="2.6">e3</text></g>
<g id="s3s-e4" transform="translate(700,107.1)"><circle class="bx1" r="10.5"/><text class="e" y="2.6">e4</text></g>
<g id="s3s-e5" transform="translate(700,132.6)"><circle class="bx1" r="10.5"/><text class="e" y="2.6">e5</text></g>
<g id="s3s-e6" transform="translate(700,158.6)"><circle class="bx1" r="10.5"/><text class="e" y="2.6">e6</text></g>
<g id="s3s-e7" transform="translate(700,188.6)"><circle class="bx2" r="10.5"/><text class="e" y="2.6">e7</text></g>
<g id="s3s-e8" transform="translate(700,215.9)"><circle class="bx2" r="10.5"/><text class="e" y="2.6">e8</text></g>
<g id="s3s-e9" transform="translate(700,243.1)"><circle class="bx2" r="10.5"/><text class="e" y="2.6">e9</text></g>
<g id="s3s-e10" transform="translate(700,268.3)"><circle class="bx2" r="10.5"/><text class="e" y="2.6">e10</text></g>
<g id="s3s-e11" transform="translate(700,293.9)"><circle class="bx2" r="10.5"/><text class="e" y="2.6">e11</text></g>
<g id="s3s-e12" transform="translate(700,325.9)"><circle class="bx3" r="10.5"/><text class="e" y="2.6">e12</text></g>
<g id="s3s-e13" transform="translate(700,353.3)"><circle class="bx3" r="10.5"/><text class="e" y="2.6">e13</text></g>
<g id="s3s-e14" transform="translate(700,378.3)"><circle class="bx3" r="10.5"/><text class="e" y="2.6">e14</text></g>
</g>
</svg>
